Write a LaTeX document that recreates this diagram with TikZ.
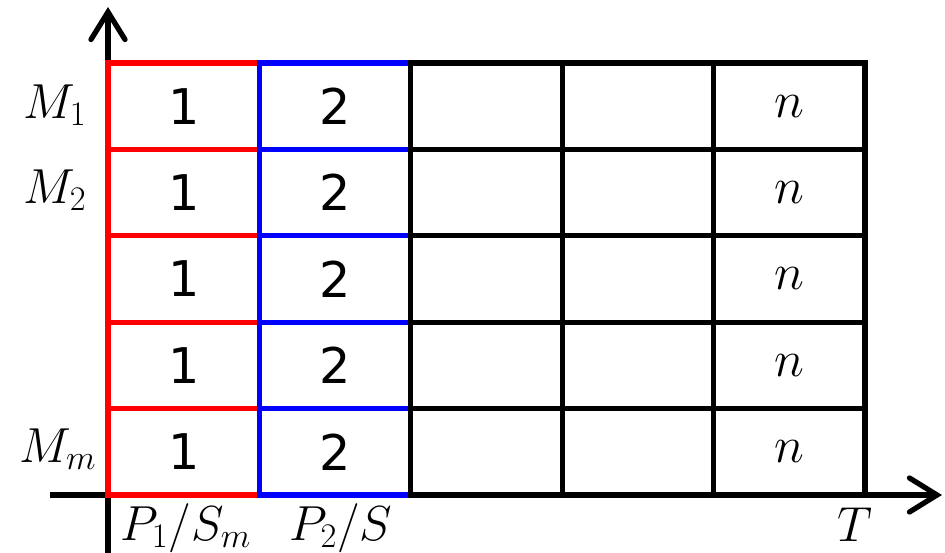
\RequirePackage{fix-cm}
\documentclass[tikz,border=0pt]{standalone}
\usepackage{fontspec}
\usetikzlibrary{arrows.meta}
\newfontfamily\cellfont{DejaVu Sans}
\tikzset{
  cell/.style={draw, rectangle, line width=3pt, minimum width=3.028cm,
    minimum height=1.728cm, inner sep=0pt, font=\cellfont\fontsize{28}{34}\selectfont},
  ncell/.style={cell, font=\fontsize{29}{35}\selectfont},
  lbl/.style={inner sep=0pt, font=\fontsize{28}{34}\selectfont},
  axis/.style={line width=3pt, -{Straight Barb[length=0.55cm,width=0.68cm,line cap=round]}}
}
\begin{document}
\begin{tikzpicture}
      \useasboundingbox (0,0) rectangle (18.9,11.06);
      % axes
      \coordinate (ybot) at (2.16,0);
      \coordinate (ytop) at (2.16,10.92);
      \coordinate (xleft) at (1.0,1.16);
      \coordinate (xright) at (18.84,1.16);
      \draw[axis] (ybot) -- (ytop);
      \draw[axis] (xleft) -- (xright);
      % first column
      \begin{scope}[every node/.style={cell, draw=red}]
        \node (c11) at (3.674,8.936) {1};
        \node (c21) at (3.674,7.208) {1};
        \node (c31) at (3.674,5.480) {1};
        \node (c41) at (3.674,3.752) {1};
        \node (c51) at (3.674,2.024) {1};
      \end{scope}
      % second column
      \begin{scope}[every node/.style={cell, draw=blue}]
        \node (c12) at (6.702,8.936) {2};
        \node (c22) at (6.702,7.208) {2};
        \node (c32) at (6.702,5.480) {2};
        \node (c42) at (6.702,3.752) {2};
        \node (c52) at (6.702,2.024) {2};
      \end{scope}
      % remaining columns
      \begin{scope}[every node/.style={cell}]
        \node (c13) at (9.730,8.936) {};
        \node (c23) at (9.730,7.208) {};
        \node (c33) at (9.730,5.480) {};
        \node (c43) at (9.730,3.752) {};
        \node (c53) at (9.730,2.024) {};
        \node (c14) at (12.758,8.936) {};
        \node (c24) at (12.758,7.208) {};
        \node (c34) at (12.758,5.480) {};
        \node (c44) at (12.758,3.752) {};
        \node (c54) at (12.758,2.024) {};
      \end{scope}
      \begin{scope}[every node/.style={ncell}]
        \node (c15) at (15.786,8.936) {$n$};
        \node (c25) at (15.786,7.208) {$n$};
        \node (c35) at (15.786,5.480) {$n$};
        \node (c45) at (15.786,3.752) {$n$};
        \node (c55) at (15.786,2.024) {$n$};
      \end{scope}
      % labels
      \node[lbl] (m1) at (1.1,8.96) {$M_1$};
      \node[lbl] (m2) at (1.1,7.26) {$M_2$};
      \node[lbl] (mm) at (1.16,2.08) {$M_m$};
      \node[lbl] (p1) at (3.72,0.5) {$P_1/S_m$};
      \node[lbl] (p2) at (6.82,0.5) {$P_2/S$};
      \node[lbl] (t) at (17.1,0.56) {$T$};
    \end{tikzpicture}
\end{document}
